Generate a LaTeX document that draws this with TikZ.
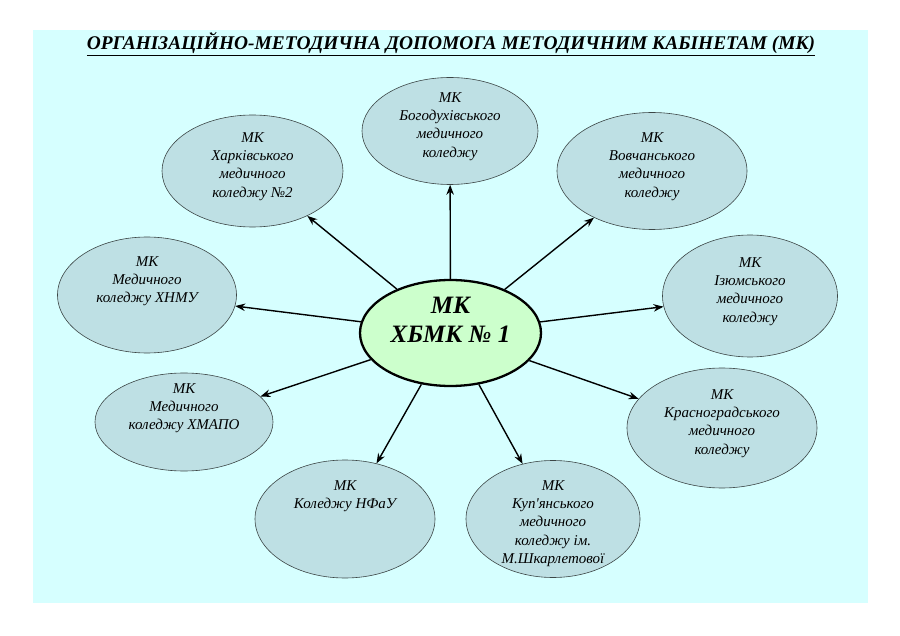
\documentclass[tikz,border=0pt]{standalone}
\usepackage{fontspec}
\setmainfont{Liberation Serif}
\usetikzlibrary{shapes.geometric,arrows.meta}

\definecolor{pagecyan}{RGB}{214,255,255}
\definecolor{mkfill}{RGB}{190,224,228}
\definecolor{hubfill}{RGB}{204,255,204}
\definecolor{rimgray}{RGB}{60,70,70}

\tikzset{
  mk/.style={ellipse, draw=rimgray, line width=0.6pt, fill=mkfill, inner sep=0pt},
  mktext/.style={anchor=north, align=center, inner sep=0pt,
    font=\itshape\fontsize{15}{18.4}\selectfont},
  hub/.style={ellipse, draw=black, line width=2.3pt, fill=hubfill, inner sep=0pt},
  link/.style={-{Stealth[length=10pt,width=7.5pt]}, line width=1.4pt}
}

\begin{document}
\begin{tikzpicture}[x=1pt, y=-1pt]
  % тло
  \useasboundingbox (0,0) rectangle (900,636);
  \fill[white] (0,0) rectangle (900,636);
  \fill[pagecyan] (33,30) rectangle (868,603);

  % заголовок
  \node[anchor=base, inner sep=0pt, font=\bfseries\itshape\fontsize{19.4}{22}\selectfont] (title) at (451,50)
    {\underline{ОРГАНІЗАЦІЙНО-МЕТОДИЧНА ДОПОМОГА МЕТОДИЧНИМ КАБІНЕТАМ (МК)}};

  % центральний кабінет
  \node[hub, minimum width=181pt, minimum height=106pt] (hbmk) at (450.5,333) {};
  \node[align=center, inner sep=0pt, font=\bfseries\itshape\fontsize{25}{29}\selectfont] (hbmktxt)
    at ([yshift=13pt]hbmk.center) {МК\\ХБМК № 1};

  % методичні кабінети коледжів
  \node[mk, minimum width=176pt, minimum height=107pt] (bogod) at (450,131) {};
  \node[mktext] (bogodtxt) at ([yshift=39pt]bogod.center) {МК\\Богодухівського\\медичного\\коледжу};

  \node[mk, minimum width=181pt, minimum height=112pt] (kharkiv) at (252.5,171) {};
  \node[mktext] (kharkivtxt) at ([yshift=39pt]kharkiv.center) {МК\\Харківського\\медичного\\коледжу №2};

  \node[mk, minimum width=190pt, minimum height=117pt] (vovch) at (652,171) {};
  \node[mktext] (vovchtxt) at ([yshift=39pt]vovch.center) {МК\\Вовчанського\\медичного\\коледжу};

  \node[mk, minimum width=179pt, minimum height=116pt] (hnmu) at (147,295) {};
  \node[mktext] (hnmutxt) at ([yshift=39pt]hnmu.center) {МК\\Медичного\\коледжу ХНМУ};

  \node[mk, minimum width=175pt, minimum height=122pt] (izum) at (750,296) {};
  \node[mktext] (izumtxt) at ([yshift=39pt]izum.center) {МК\\Ізюмського\\медичного\\коледжу};

  \node[mk, minimum width=178pt, minimum height=98pt] (hmapo) at (184,422) {};
  \node[mktext] (hmapotxt) at ([yshift=39pt]hmapo.center) {МК\\Медичного\\коледжу ХМАПО};

  \node[mk, minimum width=190pt, minimum height=120pt] (krasn) at (722,428) {};
  \node[mktext] (krasntxt) at ([yshift=39pt]krasn.center) {МК\\Красноградського\\медичного\\коледжу};

  \node[mk, minimum width=180pt, minimum height=118pt] (nfau) at (345,519) {};
  \node[mktext] (nfautxt) at ([yshift=39pt]nfau.center) {МК\\Коледжу НФаУ};

  \node[mk, minimum width=174pt, minimum height=117pt] (kupj) at (553,519) {};
  \node[mktext] (kupjtxt) at ([yshift=39pt]kupj.center)
    {МК\\Куп\textquotesingle янського\\медичного\\коледжу ім.\\М.Шкарлетової};

  % стрілки
  \draw[link] (hbmk) -- (bogod);
  \draw[link] (hbmk) -- (kharkiv);
  \draw[link] (hbmk) -- (vovch);
  \draw[link] (hbmk) -- (hnmu);
  \draw[link] (hbmk) -- (izum);
  \draw[link] (hbmk) -- (hmapo);
  \draw[link] (hbmk) -- (krasn);
  \draw[link] (hbmk) -- (nfau);
  \draw[link] (hbmk) -- (kupj);
\end{tikzpicture}
\end{document}
